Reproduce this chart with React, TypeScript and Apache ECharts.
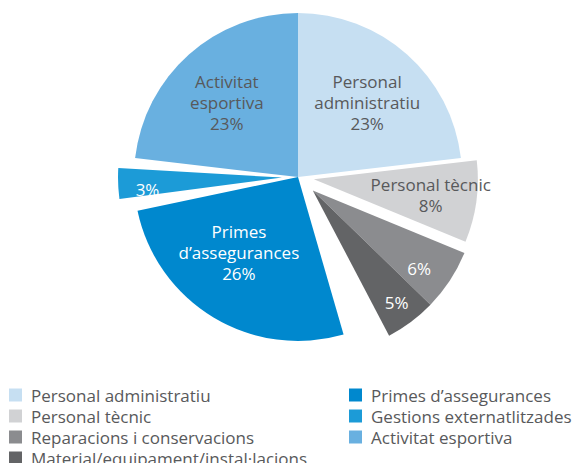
import React, { useEffect, useRef } from 'react';
import * as echarts from 'echarts';

// ---- data ----
const categories = [
  'Personal administratiu',
  'Personal tècnic',
  'Reparacions i conservacions',
  'Material/equipament/instal·lacions',
  'Primes d’assegurances',
  'Gestions externatlitzades',
  'Activitat esportiva',
];
const shares = [23, 8, 6, 5, 26, 3, 23];
// blank angular space (in % units) left after each slice in the original drawing
const gapsAfter = [0, 0, 0, 3.2, 1.2, 0.9, 0];
const sliceLabels = [
  'Personal\nadministratiu',
  'Personal tècnic',
  '',
  '',
  'Primes\nd’assegurances',
  '',
  'Activitat\nesportiva',
];
const legendLeft = categories.slice(0, 4);
const legendRight = categories.slice(4);

// ---- styles / layout ----
const colors = ['#c6dff2', '#d1d2d4', '#8b8c8f', '#636466', '#0088ce', '#1c9bd7', '#69b0e0'];
const labelColors = ['#58595b', '#58595b', '#ffffff', '#ffffff', '#ffffff', '#ffffff', '#58595b'];
const explodeGroup = [0, 1, 2, 2, 0, 3, 0];
const explodeDist = [0, 16, 20, 16];
const labelRadius = [102, 118, 132, 140, 96, 135, 103];
const labelAngleShift = [1, 0, 3, 0, 7, -3, -2];
const CX = 298;
const CY = 177;
const R = 164;
const FONT = "'Open Sans', sans-serif";

function buildOption() {
  const seq: { slice: number; value: number }[] = [];
  shares.forEach((v, i) => {
    seq.push({ slice: i, value: v });
    if (gapsAfter[i] > 0) seq.push({ slice: -1, value: gapsAfter[i] });
  });
  const total = seq.reduce((s, d) => s + d.value, 0);
  const start: number[] = [];
  const end: number[] = [];
  let acc = 0;
  seq.forEach((d) => {
    const a0 = (acc / total) * 360;
    acc += d.value;
    const a1 = (acc / total) * 360;
    if (d.slice >= 0) {
      start[d.slice] = a0;
      end[d.slice] = a1;
    }
  });
  const dir = (a: number) => {
    const r = (a * Math.PI) / 180;
    return [Math.sin(r), -Math.cos(r)];
  };
  const groups = [0, 1, 2, 3];
  const groupCenter = groups.map((g) => {
    const members = explodeGroup.map((gg, i) => (gg === g ? i : -1)).filter((i) => i >= 0);
    const a0 = Math.min(...members.map((i) => start[i]));
    const a1 = Math.max(...members.map((i) => end[i]));
    const [dx, dy] = dir((a0 + a1) / 2);
    return [CX + explodeDist[g] * dx, CY + explodeDist[g] * dy];
  });
  const labelXY = shares.map((_, i) => {
    const c = groupCenter[explodeGroup[i]];
    const [dx, dy] = dir((start[i] + end[i]) / 2 + labelAngleShift[i]);
    return [c[0] + labelRadius[i] * dx, c[1] + labelRadius[i] * dy];
  });

  const legendCommon = {
    orient: 'vertical',
    top: 386,
    height: 140,
    padding: 0,
    icon: 'rect',
    itemWidth: 13,
    itemHeight: 13,
    itemGap: 3,
    selectedMode: false,
    textStyle: {
      fontFamily: FONT,
      fontSize: 17,
      lineHeight: 18,
      color: '#58595b',
      padding: [0, 0, 0, 4],
    },
  };

  return {
    animation: false,
    legend: [
      { ...legendCommon, left: 9, data: legendLeft },
      { ...legendCommon, left: 349, data: legendRight },
    ],
    series: groups.map((g) => ({
      type: 'pie',
      name: 'grup' + g,
      center: groupCenter[g],
      radius: R,
      startAngle: 90,
      clockwise: true,
      avoidLabelOverlap: false,
      silent: true,
      emphasis: { disabled: true },
      labelLine: { show: false },
      label: {
        show: true,
        position: 'inside',
        fontFamily: FONT,
        fontSize: 17,
        lineHeight: 21,
      },
      labelLayout: (p: any) => {
        const s = seq[p.dataIndex].slice;
        if (s < 0) return {};
        return { x: labelXY[s][0], y: labelXY[s][1] };
      },
      data: seq.map((d, k) => {
        const own = d.slice >= 0 && explodeGroup[d.slice] === g;
        if (!own) {
          return {
            name: `_${g}_${k}`,
            value: d.value,
            itemStyle: { color: 'rgba(0,0,0,0)' },
            label: { show: false },
          };
        }
        const txt = (sliceLabels[d.slice] ? sliceLabels[d.slice] + '\n' : '') + shares[d.slice] + '%';
        return {
          name: categories[d.slice],
          value: d.value,
          itemStyle: { color: colors[d.slice] },
          label: { show: true, color: labelColors[d.slice], formatter: txt },
        };
      }),
    })),
  };
}

export default function App() {
  const ref = useRef<HTMLDivElement>(null);
  useEffect(() => {
    const chart = echarts.init(ref.current as HTMLDivElement, null, { renderer: 'svg' });
    chart.setOption(buildOption() as any);
    return () => chart.dispose();
  }, []);
  return (
    <div
      ref={ref}
      style={{ position: 'absolute', left: 0, top: 0, width: 577, height: 463 }}
    />
  );
}
